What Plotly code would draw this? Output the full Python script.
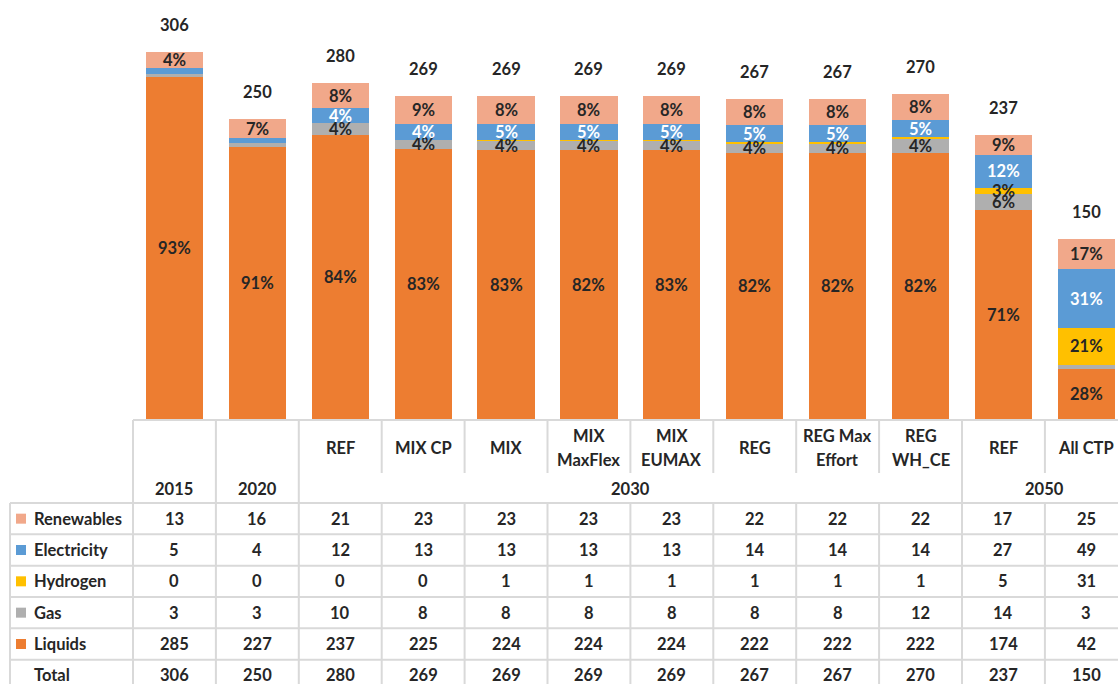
import numpy as np
import plotly.graph_objects as go

# ---------------- data ----------------
scenarios = ["", "", "REF", "MIX CP", "MIX", "MIX\nMaxFlex", "MIX\nEUMAX", "REG",
             "REG Max\nEffort", "REG\nWH_CE", "REF", "All CTP"]
years = ["2015", "2020", "2030", "2030", "2030", "2030", "2030", "2030", "2030",
         "2030", "2050", "2050"]

series_names = ["Renewables", "Electricity", "Hydrogen", "Gas", "Liquids"]
renewables = [13, 16, 21, 23, 23, 23, 23, 22, 22, 22, 17, 25]
electricity = [5, 4, 12, 13, 13, 13, 13, 14, 14, 14, 27, 49]
hydrogen = [0, 0, 0, 0, 1, 1, 1, 1, 1, 1, 5, 31]
gas = [3, 3, 10, 8, 8, 8, 8, 8, 8, 12, 14, 3]
liquids = [285, 227, 237, 225, 224, 224, 224, 222, 222, 222, 174, 42]
totals = [306, 250, 280, 269, 269, 269, 269, 267, 267, 270, 237, 150]

renewables_pct = ["4%", "7%", "8%", "9%", "8%", "8%", "8%", "8%", "8%", "8%", "9%", "17%"]
electricity_pct = ["", "", "4%", "4%", "5%", "5%", "5%", "5%", "5%", "5%", "12%", "31%"]
hydrogen_pct = ["", "", "", "", "", "", "", "", "", "", "3%", "21%"]
gas_pct = ["", "", "4%", "4%", "4%", "4%", "4%", "4%", "4%", "4%", "6%", ""]
liquids_pct = ["93%", "91%", "84%", "83%", "83%", "82%", "83%", "82%", "82%", "82%", "71%", "28%"]

# ---------------- styles ----------------
colors = {"Renewables": "#F1A88A", "Electricity": "#5B9BD5", "Hydrogen": "#FFC000",
          "Gas": "#AFAFAF", "Liquids": "#ED7D31"}
label_colors = {"Renewables": "#262626", "Electricity": "#FFFFFF", "Hydrogen": "#262626",
                "Gas": "#262626", "Liquids": "#262626"}
FONT = "Lato"
TXT = "#262626"
GRID = "#D9D9D9"
FS = 16.5

W, H = 1118, 684
BASE_PX = 419          # pixel row of bar baseline
COL_W = 82.9           # column width in px
X0 = 133               # px left edge of first data column
PX_PER_UNIT = 1.199    # bar scale

def px_x(p):
    return -0.5 + (p - X0) / COL_W

# table vertical coordinates (px below baseline)
TBL_H = H - BASE_PX
HDR_TOP = 1
HDR_CAT = 29
HDR_VLINE_END = 54
HDR_YEAR = 70
DATA_TOP = 84
ROW_H = 31.33
LBL_LEFT = px_x(10)

values = {"Renewables": renewables, "Electricity": electricity, "Hydrogen": hydrogen,
          "Gas": gas, "Liquids": liquids}
pcts = {"Renewables": renewables_pct, "Electricity": electricity_pct,
        "Hydrogen": hydrogen_pct, "Gas": gas_pct, "Liquids": liquids_pct}

n = len(scenarios)
xs = list(range(n))

fig = go.Figure()
stack_order = ["Liquids", "Gas", "Hydrogen", "Electricity", "Renewables"]
for s in stack_order:
    fig.add_trace(go.Bar(x=xs, y=values[s], name=s, marker_color=colors[s],
                         marker_line=dict(width=0),
                         showlegend=False, hoverinfo="skip"))

annotations = []
bottom = np.zeros(n)
for s in stack_order:
    v = np.array(values[s], dtype=float)
    mids = bottom + v / 2
    for i in range(n):
        if pcts[s][i]:
            annotations.append(dict(x=xs[i], y=mids[i], xref="x", yref="y",
                                    text=pcts[s][i], showarrow=False,
                                    font=dict(family=FONT, size=FS, color=label_colors[s],
                                              weight="bold")))
    bottom = bottom + v

for i in range(n):
    annotations.append(dict(x=xs[i], y=bottom[i], xref="x", yref="y", text=str(totals[i]),
                            showarrow=False, yshift=27,
                            font=dict(family=FONT, size=FS, color=TXT, weight="bold")))

# ---------------- table ----------------
def tfont():
    return dict(family=FONT, size=FS, color=TXT, weight="bold")

# scenario labels (one or two lines)
for i, sc in enumerate(scenarios):
    lines = sc.split("\n") if sc else []
    if len(lines) == 1:
        annotations.append(dict(x=i, y=HDR_CAT, xref="x", yref="y2", text=lines[0],
                                showarrow=False, font=tfont()))
    elif len(lines) == 2:
        for k, ln in enumerate(lines):
            annotations.append(dict(x=i, y=HDR_CAT + (k - 0.5) * 23.5, xref="x", yref="y2",
                                    text=ln, showarrow=False, font=tfont()))

# year groups
groups = []
for i, y in enumerate(years):
    if groups and groups[-1][0] == y:
        groups[-1][2] = i
    else:
        groups.append([y, i, i])
for y, a, b in groups:
    annotations.append(dict(x=(a + b) / 2, y=HDR_YEAR, xref="x", yref="y2", text=y,
                            showarrow=False, font=tfont()))

row_names = series_names + ["Total"]
row_values = [values[s] for s in series_names] + [totals]
for r, (name, vals) in enumerate(zip(row_names, row_values)):
    yc = DATA_TOP + ROW_H * (r + 0.5)
    annotations.append(dict(x=px_x(32), y=yc, xref="x", yref="y2", text=name,
                            xanchor="left", showarrow=False, font=tfont()))
    for i in range(n):
        annotations.append(dict(x=i, y=yc, xref="x", yref="y2", text=str(vals[i]),
                                showarrow=False, font=tfont()))

shapes = []
def line(x0, y0, x1, y1):
    shapes.append(dict(type="line", xref="x", yref="y2", x0=x0, y0=y0, x1=x1, y1=y1,
                       line=dict(color=GRID, width=2), layer="above"))

right = n - 0.5
line(-0.5, HDR_TOP, right, HDR_TOP)
for r in range(len(row_names) + 1):
    yy = DATA_TOP + ROW_H * r
    line(LBL_LEFT, yy, right, yy)
line(-0.5, HDR_TOP, -0.5, TBL_H)
line(LBL_LEFT, DATA_TOP, LBL_LEFT, TBL_H)
for i in range(n - 1):
    b = i + 0.5
    if years[i] != years[i + 1]:
        line(b, HDR_TOP, b, TBL_H)
    else:
        line(b, HDR_TOP, b, HDR_VLINE_END)
        line(b, DATA_TOP, b, TBL_H)

# legend swatches
for r, s in enumerate(series_names):
    yc = DATA_TOP + ROW_H * (r + 0.5)
    shapes.append(dict(type="rect", xref="x", yref="y2", x0=px_x(16), x1=px_x(26),
                       y0=yc - 5, y1=yc + 5, fillcolor=colors[s], line=dict(width=0)))

dom = TBL_H / H
fig.update_layout(
    width=W, height=H, autosize=False,
    margin=dict(l=0, r=0, t=0, b=0),
    paper_bgcolor="white", plot_bgcolor="white",
    barmode="stack", bargap=0.31,
    xaxis=dict(range=[px_x(0), px_x(W)], visible=False, fixedrange=True),
    yaxis=dict(domain=[dom, 1], range=[0, BASE_PX / PX_PER_UNIT], visible=False,
               fixedrange=True),
    yaxis2=dict(domain=[0, dom], range=[TBL_H, 0], visible=False, anchor="x",
                fixedrange=True),
    annotations=annotations, shapes=shapes,
)

fig.write_html(
    "out.html",
    config={"displayModeBar": False},
    post_script="document.body.style.margin='0';document.body.style.overflow='hidden';",
)
